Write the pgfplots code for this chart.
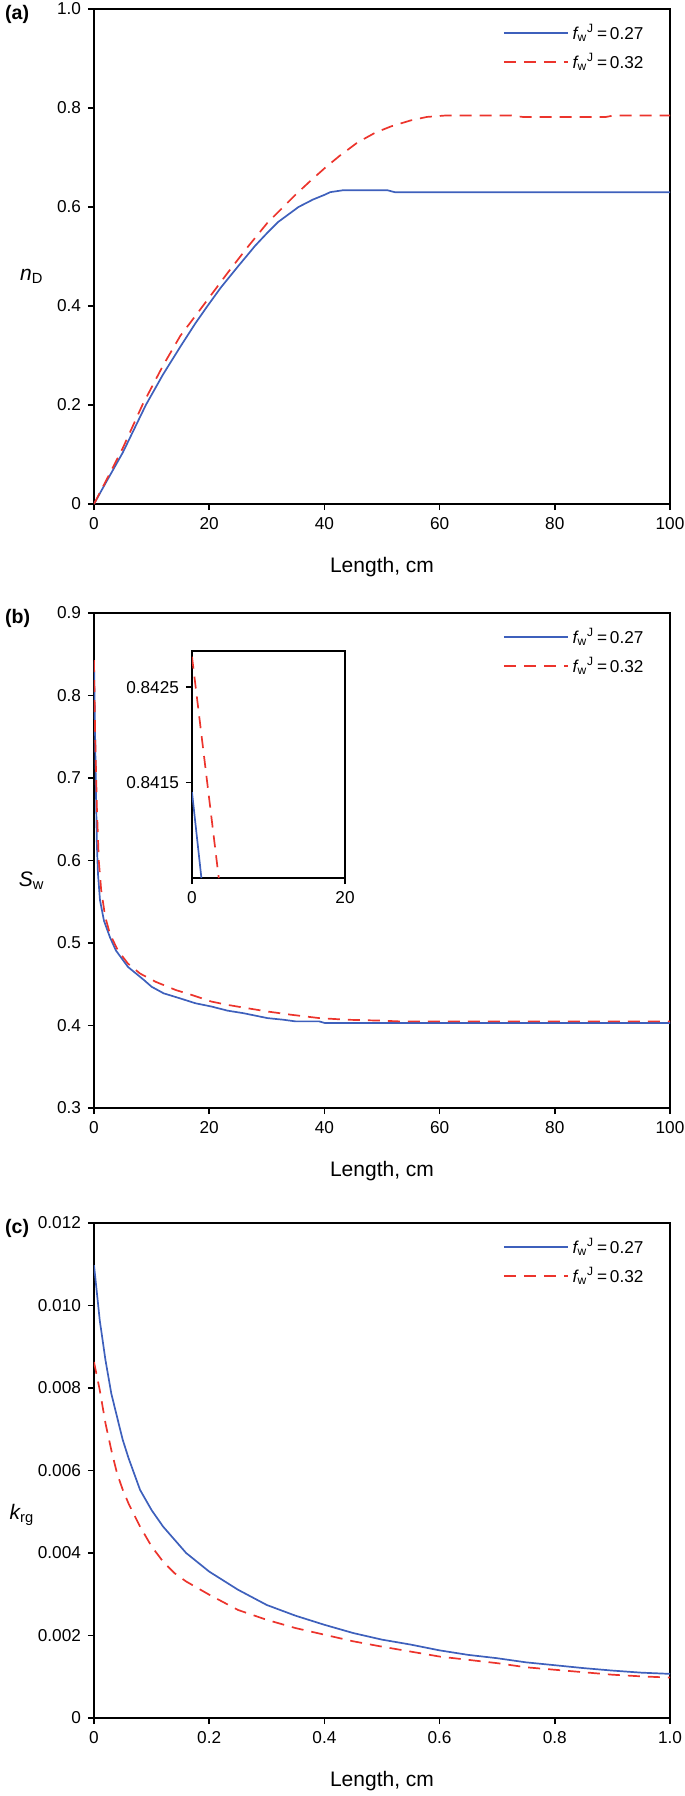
\documentclass[border=0pt]{standalone}
\usepackage{fontspec}
\setmainfont{Liberation Sans}
\usepackage{pgfplots}
\pgfplotsset{compat=1.18}

\definecolor{lineblue}{RGB}{62,96,188}
\definecolor{linered}{RGB}{236,52,44}

\pgfplotsset{
  frame/.style={
    scale only axis,
    scaled ticks=false,
    axis line style={line width=0.9pt},
    tick style={line width=0.8pt, black},
    tick align=outside,
    major tick length=3pt,
    xtick pos=left, ytick pos=left,
    ticklabel style={font=\fontsize{8.6}{10}\selectfont},
    /pgf/number format/assume math mode=true,
    clip mode=individual,
  },
  panel/.style={
    frame,
    width=288pt, height=247.5pt,
    label style={font=\fontsize{10.5}{12}\selectfont},
    x label style={at={(axis description cs:0.5,-0.128)}, anchor=center},
    y label style={at={(axis description cs:-0.108,0.46)}, anchor=center, rotate=-90},
    legend style={draw=none, fill=none, at={(0.972,0.987)}, anchor=north east,
      font=\fontsize{8.6}{10}\selectfont, row sep=1pt},
    legend cell align=left,
    legend image code/.code={\draw[##1] (0pt,0pt) -- (32pt,0pt);},
  },
  blueline/.style={color=lineblue, line width=0.85pt, no marks},
  redline/.style={color=linered, line width=0.85pt, no marks, dash pattern=on 6pt off 4pt},
}

\newcommand{\fwJ}{{\itshape f}\textsubscript{w}\textsuperscript{J}\,=\,}
\newcommand{\panellabel}[1]{\node[anchor=west, inner sep=0pt, font=\bfseries\fontsize{9.8}{11}\selectfont] at (rel axis cs:-0.155,0.99) {#1};}

\begin{document}
\begin{tikzpicture}
\useasboundingbox (-47pt,0pt) rectangle (295.5pt,-898pt);

% (a) n_D
\begin{axis}[panel, at={(0pt,-252pt)}, anchor=south west,
  xmin=0, xmax=100, ymin=0, ymax=1,
  xtick={0,20,40,60,80,100},
  ytick={0,0.2,0.4,0.6,0.8,1.0},
  yticklabels={0,0.2,0.4,0.6,0.8,1.0},
  xlabel={Length, cm},
  ylabel={{\itshape n}\textsubscript{D}}]
\addplot[blueline] coordinates {
 (0,0) (2,0.042) (5,0.104) (9,0.200) (12,0.262) (15,0.318) (17.6,0.365)
 (19.7,0.400) (22,0.437) (25,0.480) (28,0.522) (30.1,0.548) (32,0.570)
 (35.5,0.600) (38,0.615) (40.1,0.625) (41,0.630) (43.3,0.634) (50.9,0.634)
 (52.2,0.630) (100,0.630)};
\addlegendentry{\fwJ0.27}
\addplot[redline] coordinates {
 (0,0) (2,0.045) (5,0.113) (8.4,0.200) (12,0.280) (15,0.340) (18.9,0.400)
 (23.2,0.467) (26.6,0.518) (30.1,0.568) (32,0.590) (35,0.625) (37.5,0.652)
 (40.1,0.679) (42.6,0.703) (45.7,0.730) (48.8,0.750) (51.6,0.763) (55,0.775)
 (57.8,0.782) (61.2,0.785) (72.3,0.785) (74.4,0.782) (88.9,0.782) (90.3,0.785)
 (100,0.785)};
\addlegendentry{\fwJ0.32}
\panellabel{(a)}
\end{axis}

% (b) S_w
\begin{axis}[panel, at={(0pt,-554pt)}, anchor=south west,
  xmin=0, xmax=100, ymin=0.3, ymax=0.9,
  xtick={0,20,40,60,80,100},
  ytick={0.3,0.4,0.5,0.6,0.7,0.8,0.9},
  yticklabels={0.3,0.4,0.5,0.6,0.7,0.8,0.9},
  xlabel={Length, cm},
  ylabel={{\itshape S}\textsubscript{w}}]
\addplot[blueline] coordinates {
 (0,0.8414) (0.3,0.70) (0.5,0.62) (0.69,0.584) (1.04,0.552) (1.73,0.527)
 (2.77,0.507) (3.8,0.491) (5.9,0.471) (8.7,0.455) (10,0.447) (12.1,0.439)
 (14.9,0.433) (17.6,0.427) (20.4,0.423) (23.2,0.418) (25.9,0.415) (28.7,0.411)
 (30.1,0.409) (32.9,0.407) (35,0.405) (39.1,0.405) (40.1,0.403) (100,0.403)};
\addlegendentry{\fwJ0.27}
\addplot[redline] coordinates {
 (0,0.8428) (0.2,0.753) (0.5,0.664) (0.83,0.600) (1.25,0.564) (1.94,0.532)
 (2.77,0.511) (4.15,0.491) (5.9,0.475) (8,0.463) (10.7,0.453) (14.2,0.443)
 (17,0.437) (20.4,0.429) (23.2,0.425) (26.6,0.421) (30.1,0.417) (34.3,0.413)
 (39.1,0.409) (43.9,0.407) (49.5,0.406) (53,0.405) (100,0.405)};
\addlegendentry{\fwJ0.32}
\panellabel{(b)}
\end{axis}

% inset of (b)
\begin{axis}[frame, at={(49pt,-439pt)}, anchor=south west,
  width=76.5pt, height=113.5pt,
  xmin=0, xmax=20, ymin=0.8405, ymax=0.84288,
  xtick={0,20},
  ytick={0.8415,0.8425},
  yticklabels={0.8415,0.8425}]
\addplot[blueline] coordinates {(0,0.8414) (1.23,0.8405)};
\addplot[redline] coordinates {(0,0.84282) (3.5,0.8405)};
\end{axis}

% (c) k_rg
\begin{axis}[panel, at={(0pt,-859pt)}, anchor=south west,
  xmin=0, xmax=1, ymin=0, ymax=0.012,
  xtick={0,0.2,0.4,0.6,0.8,1.0},
  xticklabels={0,0.2,0.4,0.6,0.8,1.0},
  ytick={0,0.002,0.004,0.006,0.008,0.010,0.012},
  yticklabels={0,0.002,0.004,0.006,0.008,0.010,0.012},
  xlabel={Length, cm},
  ylabel={{\itshape k}\textsubscript{rg}},
  y label style={at={(axis description cs:-0.125,0.41)}}]
\addplot[blueline] coordinates {
 (0,0.01098) (0.01,0.00964) (0.02,0.00867) (0.03,0.00787) (0.04,0.0073)
 (0.05,0.00674) (0.06,0.0063) (0.08,0.00553) (0.10,0.00504) (0.12,0.00464)
 (0.14,0.00432) (0.16,0.0040) (0.20,0.00355) (0.25,0.00311) (0.30,0.00274)
 (0.35,0.00248) (0.40,0.00226) (0.45,0.00206) (0.50,0.0019) (0.55,0.00178)
 (0.60,0.00164) (0.65,0.00153) (0.70,0.00145) (0.75,0.00135) (0.80,0.00128)
 (0.85,0.00121) (0.90,0.00115) (0.95,0.0011) (1.0,0.00107)};
\addlegendentry{\fwJ0.27}
\addplot[redline] coordinates {
 (0,0.00863) (0.01,0.00795) (0.02,0.00714) (0.03,0.0065) (0.04,0.00593)
 (0.05,0.00553) (0.06,0.0052) (0.08,0.00464) (0.10,0.00416) (0.12,0.00379)
 (0.14,0.00351) (0.16,0.00331) (0.20,0.00299) (0.25,0.00262) (0.30,0.00238)
 (0.35,0.00218) (0.40,0.00202) (0.45,0.00186) (0.50,0.00173) (0.55,0.00161)
 (0.60,0.00149) (0.65,0.00141) (0.70,0.00133) (0.75,0.00123) (0.80,0.00117)
 (0.85,0.00111) (0.90,0.00105) (0.95,0.00101) (1.0,0.00098)};
\addlegendentry{\fwJ0.32}
\panellabel{(c)}
\end{axis}
\end{tikzpicture}
\end{document}
